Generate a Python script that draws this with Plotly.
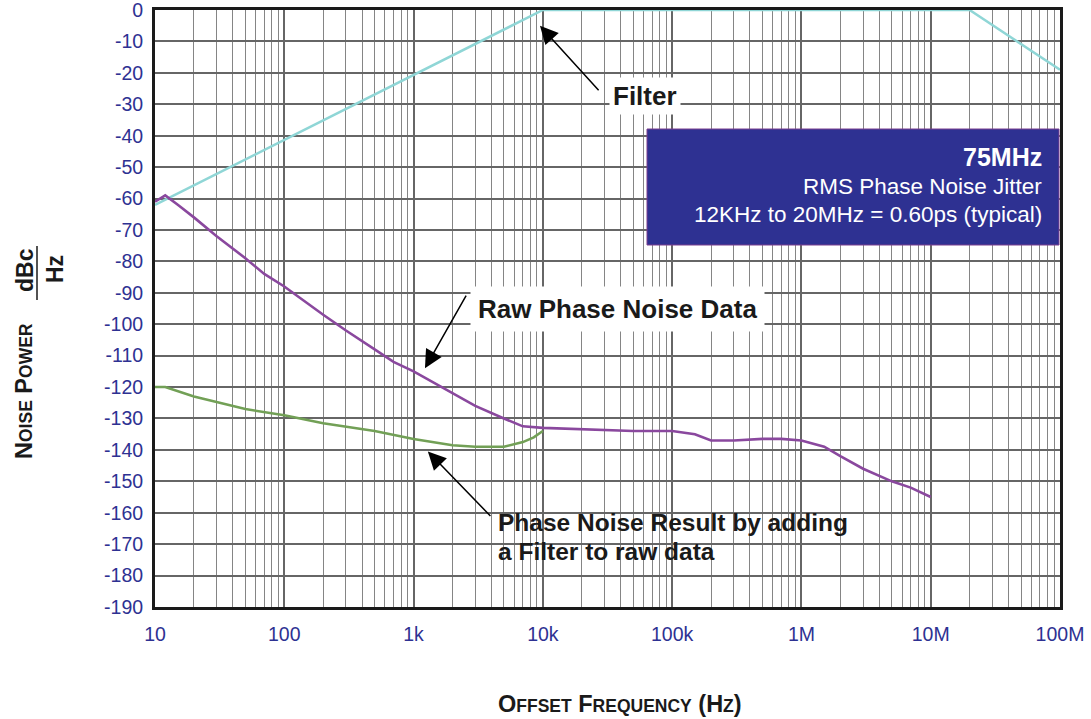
import math
import plotly.graph_objects as go

# ---------------- data ----------------
filter_freq = [10, 10000, 20e6, 100e6]
filter_db = [-62, 0, 0, -19]

raw_freq = [10, 12, 15, 20, 30, 50, 70, 100, 200, 300, 500, 700, 1000, 1500, 2000,
            3000, 5000, 7000, 10000, 20000, 50000, 100000, 150000, 200000, 300000,
            500000, 700000, 1e6, 1.5e6, 2e6, 3e6, 5e6, 7e6, 10e6]
raw_db = [-61, -59, -62, -66, -72, -79, -84, -88, -97, -102, -108, -112, -115, -119, -122,
          -126, -130, -132.5, -133, -133.5, -134, -134, -135, -137, -137,
          -136.5, -136.5, -137, -139, -142, -146, -150, -152, -155]

res_freq = [10, 12, 20, 50, 100, 200, 500, 1000, 2000, 3000, 5000, 7000, 8500, 10000]
res_db = [-120, -120, -123, -127, -129, -131.5, -134, -136.5, -138.5, -139, -139, -137.5, -136, -134]

y_tick_vals = [0, -10, -20, -30, -40, -50, -60, -70, -80, -90, -100, -110, -120, -130,
               -140, -150, -160, -170, -180, -190]
y_tick_text = ["0", "-10", "-20", "-30", "-40", "-50", "-60", "-70", "-80", "-90", "-100",
               "-110", "-120", "-130", "-140", "-150", "-160", "-170", "-180", "-190"]

NAVY = "#2e3192"
FONT = "Liberation Sans, Arial, sans-serif"

# plot area in pixels (for paper-coordinate helpers)
L, R, T, B = 155, 1060, 10, 607
W, H = 1091, 719


def px(x):
    return (x - L) / (R - L)


def py(y):
    return (B - y) / (B - T)


fig = go.Figure()
fig.add_trace(go.Scatter(x=filter_freq, y=filter_db, mode="lines",
                         line=dict(color="#8fd6d6", width=2.5), hoverinfo="skip"))
fig.add_trace(go.Scatter(x=res_freq, y=res_db, mode="lines",
                         line=dict(color="#72a056", width=2.5), hoverinfo="skip"))
fig.add_trace(go.Scatter(x=raw_freq, y=raw_db, mode="lines",
                         line=dict(color="#8a489e", width=2.6), hoverinfo="skip"))

sc = "font-size:17.5px"
LBL = dict(size=26, color="#1a1a1a", family=FONT)
LBL2 = dict(size=24.5, color="#1a1a1a", family=FONT)
ARW = dict(showarrow=True, arrowhead=2, arrowsize=2.4, arrowwidth=1.5,
           arrowcolor="black", text="", xref="x", yref="y")

annotations = [
    # arrows
    dict(x=math.log10(9500), y=-5, ax=60, ay=66, **ARW),
    dict(x=math.log10(1225), y=-114, ax=42, ay=-74, **ARW),
    dict(x=math.log10(1290), y=-140.5, ax=64, ay=66, **ARW),
    # labels
    dict(x=px(645), y=py(96), xref="paper", yref="paper", text="<b>Filter</b>",
         showarrow=False, font=LBL, bgcolor="white", borderpad=3,
         xanchor="center", yanchor="middle"),
    dict(x=px(617), y=py(309), xref="paper", yref="paper", text="<b>Raw Phase Noise Data</b>",
         showarrow=False, font=LBL, bgcolor="white", borderpad=7,
         xanchor="center", yanchor="middle"),
    dict(x=px(496), y=py(522), xref="paper", yref="paper",
         text="<b>Phase Noise Result by adding</b>",
         showarrow=False, font=LBL2, xanchor="left", yanchor="middle"),
    dict(x=px(496), y=py(551), xref="paper", yref="paper",
         text="<b>a Filter to raw data</b>",
         showarrow=False, font=LBL2, xanchor="left", yanchor="middle"),
    # box text
    dict(x=px(1044), y=py(157), xref="paper", yref="paper", text="<b>75MHz</b>",
         showarrow=False, font=dict(size=25, color="white", family=FONT),
         xanchor="right", yanchor="middle"),
    dict(x=px(1044), y=py(186), xref="paper", yref="paper", text="RMS Phase Noise Jitter",
         showarrow=False, font=dict(size=22.5, color="white", family=FONT),
         xanchor="right", yanchor="middle"),
    dict(x=px(1044), y=py(215), xref="paper", yref="paper",
         text="12KHz to 20MHz = 0.60ps (typical)",
         showarrow=False, font=dict(size=22.5, color="white", family=FONT),
         xanchor="right", yanchor="middle"),
    # axis titles
    dict(x=px(620), y=py(704), xref="paper", yref="paper",
         text=f"<b>O<span style='{sc}'>FFSET</span> F<span style='{sc}'>REQUENCY</span> (H<span style='{sc}'>Z</span>)</b>",
         showarrow=False, font=dict(size=23.5, color="#1a1a1a", family=FONT),
         xanchor="center", yanchor="middle"),
    dict(x=px(24), y=py(391), xref="paper", yref="paper", textangle=-90,
         text=f"<b>N<span style='{sc}'>OISE</span> P<span style='{sc}'>OWER</span></b>",
         showarrow=False, font=dict(size=23.5, color="#1a1a1a", family=FONT),
         xanchor="center", yanchor="middle"),
    dict(x=px(25), y=py(270), xref="paper", yref="paper", textangle=-90,
         text="<b>dBc</b>", showarrow=False, font=dict(size=23, color="#1a1a1a", family=FONT),
         xanchor="center", yanchor="middle"),
    dict(x=px(55), y=py(269), xref="paper", yref="paper", textangle=-90,
         text="<b>Hz</b>", showarrow=False, font=dict(size=23, color="#1a1a1a", family=FONT),
         xanchor="center", yanchor="middle"),
]

shapes = [
    dict(type="rect", xref="paper", yref="paper", x0=px(487), x1=px(885),
         y0=py(567), y1=py(505), fillcolor="white", line=dict(width=0), layer="between"),
    dict(type="rect", xref="paper", yref="paper", x0=px(647), x1=px(1059),
         y0=py(245), y1=py(129), fillcolor=NAVY, line=dict(color="#7a3f8f", width=1),
         layer="above"),
    dict(type="line", xref="paper", yref="paper", x0=px(37), x1=px(37),
         y0=py(300), y1=py(246), line=dict(color="#1a1a1a", width=1.5)),
]

fig.update_layout(
    width=W, height=H,
    margin=dict(l=L, r=W - R, t=T, b=H - B, autoexpand=False),
    paper_bgcolor="white", plot_bgcolor="white",
    showlegend=False,
    font=dict(family=FONT),
    annotations=annotations,
    shapes=shapes,
)

fig.update_xaxes(
    type="log", range=[1, 8], dtick=1, tickformat="~s",
    tickfont=dict(size=19.5, color=NAVY, family=FONT),
    showgrid=True, gridcolor="#666666", gridwidth=1.7,
    minor=dict(dtick="D1", showgrid=True, gridcolor="#858585", gridwidth=1.4),
    showline=True, mirror=True, linecolor="#1a1a1a", linewidth=3,
    ticks="", ticklabelstandoff=8, zeroline=False, automargin=False,
    ticklabeloverflow="allow",
)
fig.update_yaxes(
    range=[-190, 0], tickmode="array", tickvals=y_tick_vals, ticktext=y_tick_text,
    tickfont=dict(size=19.5, color=NAVY, family=FONT),
    showgrid=True, gridcolor="#666666", gridwidth=1.7,
    showline=True, mirror=True, linecolor="#1a1a1a", linewidth=3,
    ticks="", ticklabelstandoff=5, zeroline=False, automargin=False,
    ticklabeloverflow="allow",
)

fig.write_html("out.html", config={"displayModeBar": False},
               post_script="document.body.style.margin='0';")
